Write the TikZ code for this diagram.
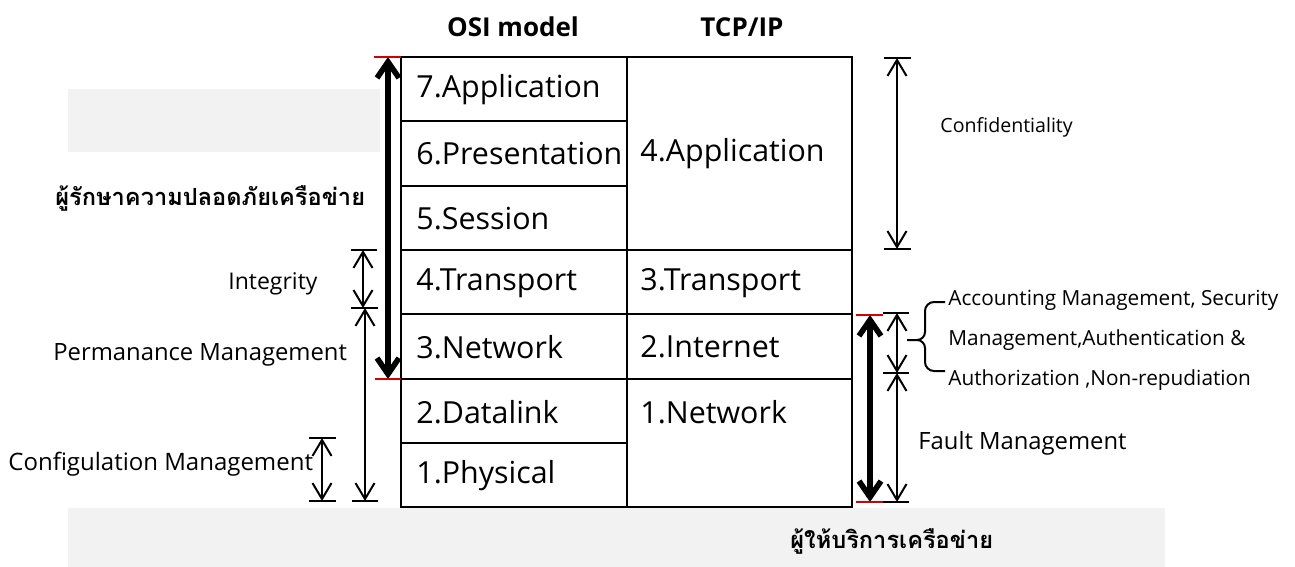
\documentclass[tikz,border=0pt]{standalone}
\usepackage{fontspec}
\setmainfont{Open Sans}
\newfontfamily\thaifont[Script=Thai]{Loma}
\usetikzlibrary{arrows.meta}
\definecolor{panelgray}{RGB}{242,242,242}
\definecolor{capred}{RGB}{210,0,0}
\begin{document}
\begin{tikzpicture}[x=0.5pt,y=-0.5pt,
  tbl/.style={line width=1pt,black},
  layer/.style={anchor=west,inner sep=0pt,font=\fontsize{15.2}{18}\selectfont},
  lbl/.style={anchor=west,inner sep=0pt,font=\fontsize{11.9}{14}\selectfont},
  small/.style={anchor=west,inner sep=0pt,font=\fontsize{10.4}{13}\selectfont},
  head/.style={inner sep=0pt,font=\bfseries\fontsize{13}{16}\selectfont},
  thaitxt/.style={anchor=west,inner sep=0pt,font=\thaifont\bfseries\fontsize{11.8}{15}\selectfont},
  thinarr/.style={line width=1pt,{Straight Barb[length=8pt,width=9.5pt]}-{Straight Barb[length=8pt,width=9.5pt]}},
  thickarr/.style={line width=2.8pt,{Straight Barb[length=8pt,width=11pt]}-{Straight Barb[length=8pt,width=11pt]}},
  blackcap/.style={line width=1pt,black},
  redcap/.style={line width=1pt,capred}]
\useasboundingbox (0,0) rectangle (1295,567);
% grey panels
\fill[panelgray] (68,89) rectangle (380,152);
\fill[panelgray] (68,508) rectangle (1165,567);
% headers
\node[head] (hosi) at (513,27) {OSI model};
\node[head] (htcp) at (742,27) {TCP/IP};
% table
\draw[tbl] (401,57) rectangle (852,507);
\draw[tbl] (627,57) -- (627,507);
\foreach \yy in {121,186,250,314,379,443} \draw[tbl] (401,\yy) -- (627,\yy);
\foreach \yy in {250,314,379} \draw[tbl] (627,\yy) -- (852,\yy);
% OSI layers
\node[layer] (o7) at (416,90) {7.Application};
\node[layer] (o6) at (416,154) {6.Presentation};
\node[layer] (o5) at (416,219) {5.Session};
\node[layer] (o4) at (416,283) {4.Transport};
\node[layer] (o3) at (416,347) {3.Network};
\node[layer] (o2) at (416,412) {2.Datalink};
\node[layer] (o1) at (416,476) {1.Physical};
% TCP/IP layers
\node[layer] (t4) at (640,154) {4.Application};
\node[layer] (t3) at (640,283) {3.Transport};
\node[layer] (t2) at (640,347) {2.Internet};
\node[layer] (t1) at (640,412) {1.Network};
% coordinates
\coordinate (sTop) at (388,57);
\coordinate (sBot) at (388,379);
\coordinate (iTop) at (363,250);
\coordinate (iBot) at (363,308);
\coordinate (pTop) at (365,308);
\coordinate (pBot) at (365,501);
\coordinate (cTop) at (322,438);
\coordinate (cBot) at (322,501);
\coordinate (fTop) at (897,58);
\coordinate (fBot) at (897,249);
\coordinate (rTop) at (870,315);
\coordinate (rBot) at (870,502);
\coordinate (aTop) at (897,313);
\coordinate (aMid) at (897,373);
\coordinate (aBot) at (897,502);
% left thick arrow with red caps
\draw[thickarr] (sTop) -- (sBot);
\draw[redcap] (374,57) -- (401,57);
\draw[redcap] (375,379) -- (401,379);
% integrity
\draw[thinarr] (iTop) -- (iBot);
\draw[blackcap] (351,250) -- (377,250);
\draw[blackcap] (351,308) -- (378,308);
% permanance
\draw[thinarr] (pTop) -- (pBot);
\draw[blackcap] (352,501) -- (378,501);
% configulation
\draw[thinarr] (cTop) -- (cBot);
\draw[blackcap] (309,438) -- (336,438);
\draw[blackcap] (309,501) -- (336,501);
% confidentiality
\draw[thinarr] (fTop) -- (fBot);
\draw[blackcap] (884,58) -- (911,58);
\draw[blackcap] (884,249) -- (911,249);
% right thick arrow
\draw[thickarr] (rTop) -- (rBot);
\draw[redcap] (856,315) -- (883,315);
\draw[redcap] (856,502) -- (883,502);
% right thin arrows
\draw[thinarr] (aTop) -- (aMid);
\draw[thinarr] (aMid) -- (aBot);
\draw[blackcap] (883,313) -- (909,313);
\draw[blackcap] (883,373) -- (909,373);
\draw[blackcap] (883,502) -- (909,502);
% brace
\draw[line width=1pt] (945,302) -- (934,302) to[out=180,in=90] (925,311) -- (925,332)
  to[out=270,in=0] (917,340) -- (907,340);
\draw[line width=1pt] (917,340) to[out=0,in=90] (925,348) -- (925,362)
  to[out=270,in=180] (934,371) -- (945,371);
% labels
\node[small,font=\fontsize{9.8}{12}\selectfont] (lconf) at (940,127) {Confidentiality};
\node[lbl,font=\fontsize{11.5}{14}\selectfont] (lint) at (228,284) {Integrity};
\node[lbl] (lperm) at (53,355) {Permanance Management};
\node[lbl,font=\fontsize{12}{14}\selectfont] (lcfg) at (8,464) {Configulation Management};
\node[lbl] (lfault) at (918,443) {Fault Management};
\node[small] (la1) at (948,300) {Accounting Management, Security};
\node[small] (la2) at (948,340) {Management,Authentication \&};
\node[small] (la3) at (948,380) {Authorization ,Non-repudiation};
\node[thaitxt] (th1) at (55,198) {ผู้รักษาความปลอดภัยเครือข่าย};
\node[thaitxt] (th2) at (790,541) {ผู้ให้บริการเครือข่าย};
\end{tikzpicture}
\end{document}
